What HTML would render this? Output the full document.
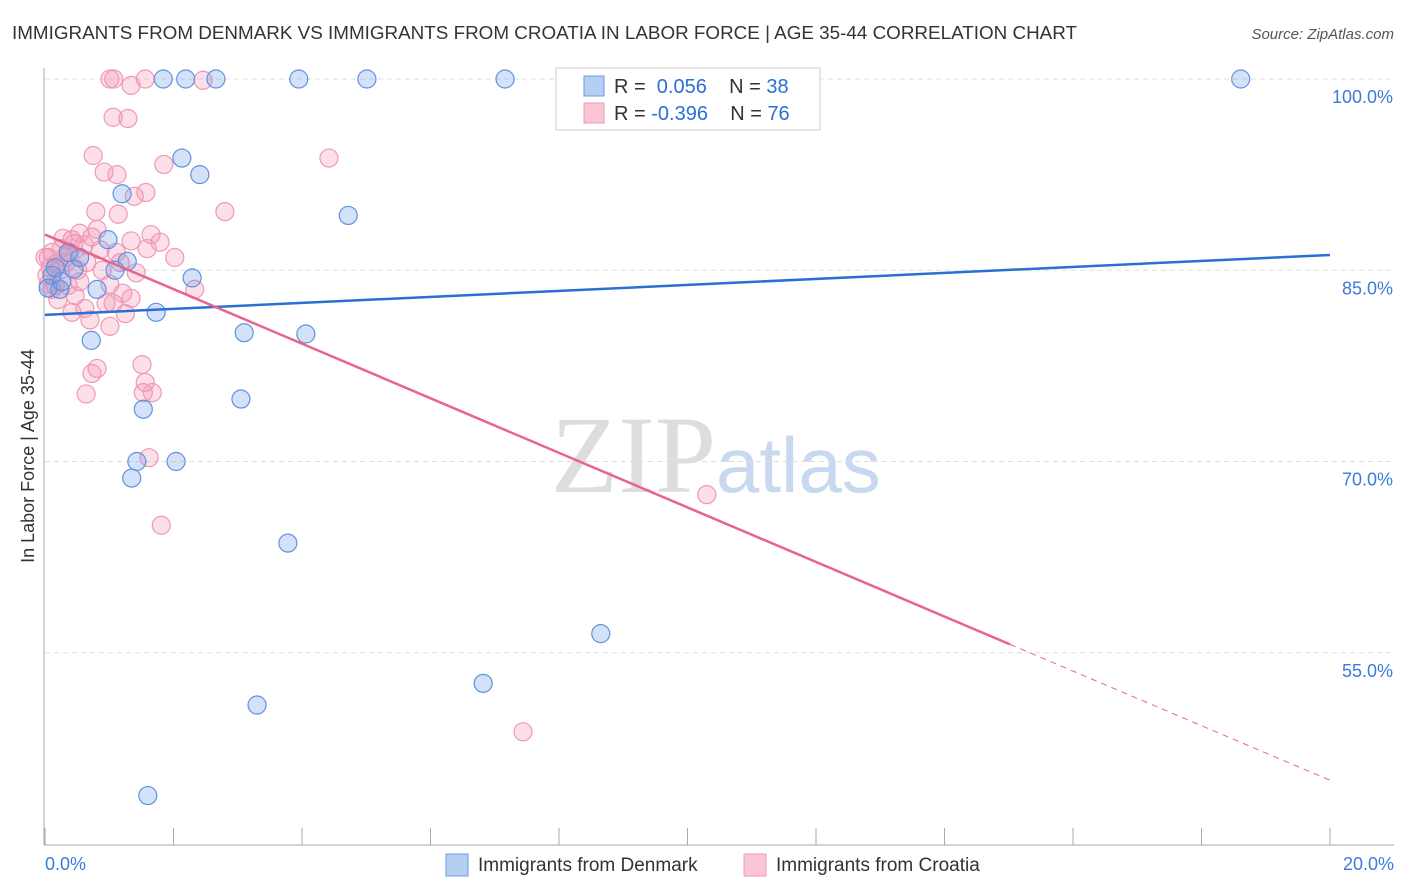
<!DOCTYPE html>
<html><head><meta charset="utf-8"><style>
body{margin:0;background:#fff;font-family:"Liberation Sans",sans-serif;}
svg{display:block}
</style></head><body>
<svg id="c" width="1406" height="892" xmlns="http://www.w3.org/2000/svg">
<text x="12" y="39" font-size="18" fill="#333" textLength="1065" lengthAdjust="spacingAndGlyphs">IMMIGRANTS FROM DENMARK VS IMMIGRANTS FROM CROATIA IN LABOR FORCE | AGE 35-44 CORRELATION CHART</text>
<text x="1394" y="39" font-size="15" fill="#555" text-anchor="end" font-style="italic">Source: ZipAtlas.com</text>
<text x="716" y="492" font-size="110" fill="#ddd" text-anchor="end" font-family="Liberation Serif,serif">ZIP</text>
<text x="716" y="492" font-size="78" fill="#c8d8ee">atlas</text>
<g id="grid"></g><g id="marks"></g>
<text transform="translate(34,456) rotate(-90)" font-size="18" fill="#333" text-anchor="middle">In Labor Force | Age 35-44</text>
<g>
<rect x="556" y="68" width="264" height="62" fill="#fff" stroke="#ccc"/>
<rect x="584" y="76" width="20" height="20" fill="#b5cff3" stroke="#6a9ae0"/>
<rect x="584" y="103" width="20" height="20" fill="#fac5d5" stroke="#ee9ab4"/>
<text x="614" y="93" font-size="20" fill="#333">R = <tspan fill="#2a6fd6">&#160;0.056</tspan>&#160;&#160;&#160;&#160;N = <tspan fill="#2a6fd6">38</tspan></text>
<text x="614" y="120" font-size="20" fill="#333">R = <tspan fill="#2a6fd6">-0.396</tspan>&#160;&#160;&#160;&#160;N = <tspan fill="#2a6fd6">76</tspan></text>
</g>
<g>
<rect x="446" y="854" width="22" height="22" fill="#b5cff3" stroke="#6a9ae0"/>
<text x="478" y="871" font-size="19" fill="#333">Immigrants from Denmark</text>
<rect x="744" y="854" width="22" height="22" fill="#fac5d5" stroke="#ee9ab4"/>
<text x="776" y="871" font-size="19" fill="#333">Immigrants from Croatia</text>
</g>
</svg>
<script>
const yTicks=[100,85,70,55];
const yTickLabels=["100.0%","85.0%","70.0%","55.0%"];
const xTickLabels=["0.0%","20.0%"];
const blueX=[1.84,2.19,2.66,3.95,5.01,7.16,18.61,2.13,2.41,1.20,4.72,0.98,1.28,1.09,2.29,0.81,0.23,0.45,0.11,1.73,3.10,4.06,0.72,3.05,1.53,1.43,2.04,1.35,3.78,8.65,6.82,3.30,1.60,0.05,0.26,0.54,0.16,0.36];
const blueY=[100,100,100,100,100,100,100,93.8,92.5,91.0,89.3,87.4,85.7,85.0,84.4,83.5,83.5,85.1,84.6,81.7,80.1,80.0,79.5,74.9,74.1,70.0,70.0,68.7,63.6,56.5,52.6,50.9,43.8,83.6,84.1,86.0,85.2,86.4];
const pinkX=[1.01,1.07,1.34,1.56,2.46,1.06,1.29,0.75,1.85,4.42,0.92,1.12,1.57,1.39,2.80,0.79,1.14,1.65,0.81,0.54,1.34,1.79,2.02,1.59,0.73,0.42,0.25,0.39,0.61,0.11,0.17,0.05,0.30,0.45,0.65,0.89,1.11,1.42,0.05,0.16,0.36,0.47,0.54,1.01,1.21,2.33,1.34,1.06,0.62,0.42,0.70,1.25,1.01,1.51,0.81,0.73,1.56,0.64,1.53,1.67,1.62,1.81,10.30,7.44,0.08,0.23,0.33,0.0,0.03,0.11,0.20,0.51,0.86,1.17,0.28,0.95];
const pinkY=[100,100,99.5,100,99.9,97.0,96.9,94.0,93.3,93.8,92.7,92.5,91.1,90.8,89.6,89.6,89.4,87.8,88.2,87.9,87.3,87.2,86.0,86.7,87.6,87.4,86.7,86.4,87.0,86.4,85.5,86.0,86.0,87.1,85.6,85.0,86.4,84.8,83.9,83.8,83.8,83.0,84.1,83.9,83.2,83.5,82.8,82.4,82.0,81.7,81.1,81.6,80.6,77.6,77.3,76.9,76.2,75.3,75.4,75.4,70.3,65.0,67.4,48.8,85.2,85.0,85.6,86.0,84.6,83.5,82.7,85.0,86.6,85.6,87.5,82.4];
const blueTrend=[81.5,86.2];
const pinkTrend=[87.8,45.0];
const pinkSolidEnd=15.02;
const NS="http://www.w3.org/2000/svg";
const X=v=>45+v*64.25, Y=v=>79+(100-v)*12.75;
function mk(t,a,p){const e=document.createElementNS(NS,t);for(const k in a)e.setAttribute(k,a[k]);p.appendChild(e);return e;}
const g=document.getElementById('grid'), m=document.getElementById('marks');
yTicks.forEach((t,i)=>{
 const l=mk('line',{x1:45,x2:1394,y1:Y(t),y2:Y(t),stroke:'#ddd','stroke-dasharray':'5,4'},g);
 
 
 const tx=mk('text',{x:1393,y:Y(t)+24,'font-size':18,fill:'#3d7bd9','text-anchor':'end'},g);
 tx.textContent=yTickLabels[i];
 
 
});
const ax=mk('line',{x1:44,x2:44,y1:68,y2:845,stroke:'#aaa'},g);


const bx=mk('line',{x1:44,x2:1394,y1:845,y2:845,stroke:'#aaa'},g);


for(let i=0;i<=10;i++){const t=mk('line',{x1:X(i*2),x2:X(i*2),y1:828,y2:845,stroke:'#aaa'},g);
 
 }
[[0,'start',45],[20,'end',1394]].forEach((d,i)=>{const t=mk('text',{x:d[2],y:870,'font-size':18,fill:'#3d7bd9','text-anchor':d[1]},g);t.textContent=xTickLabels[i];
 
 });
function pts(xs,ys,f,s,name){xs.forEach((x,i)=>{const c=mk('circle',{cx:X(x),cy:Y(ys[i]),r:9,fill:f,stroke:s,'stroke-width':1.2},m);
 
 });}
pts(pinkX,pinkY,'rgba(244,150,178,0.3)','#ee9ab4','croatia-point');
pts(blueX,blueY,'rgba(110,160,232,0.3)','#5f92de','denmark-point');
const bl=mk('line',{x1:X(0),y1:Y(blueTrend[0]),x2:X(20),y2:Y(blueTrend[1]),stroke:'#2a6fd6','stroke-width':2.5},m);


const pe=pinkTrend[0]+(pinkTrend[1]-pinkTrend[0])*pinkSolidEnd/20;
const pl=mk('line',{x1:X(0),y1:Y(pinkTrend[0]),x2:X(pinkSolidEnd),y2:Y(pe),stroke:'#e8648f','stroke-width':2.5},m);


const pd=mk('line',{x1:X(pinkSolidEnd),y1:Y(pe),x2:X(20),y2:Y(pinkTrend[1]),stroke:'#e8648f','stroke-width':1,'stroke-dasharray':'6,5'},m);


</script>
</body></html>
